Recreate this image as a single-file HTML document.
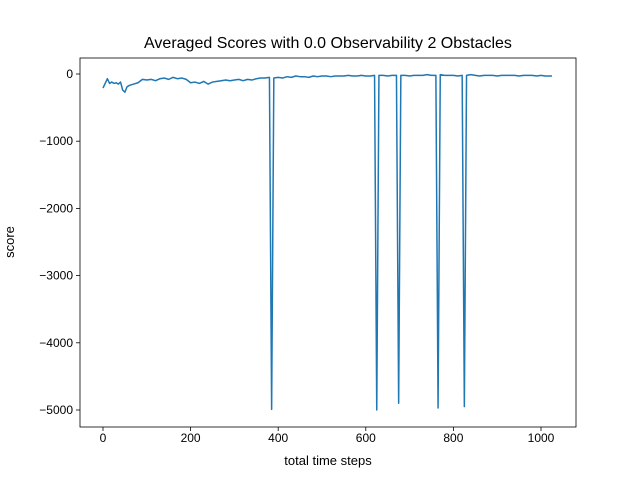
<!DOCTYPE html>
<html><head><meta charset="utf-8"><style>
body{margin:0;background:#fff}
svg{display:block;font-family:"Liberation Sans","DejaVu Sans",sans-serif}
</style></head><body>
<svg id="chart" width="640" height="480">
<rect x="0" y="0" width="640" height="480" fill="#fff"/>
<text x="328" y="48" font-size="16" text-anchor="middle">Averaged Scores with 0.0 Observability 2 Obstacles</text>
<g id="axes"></g>
<text x="328" y="465" font-size="13" text-anchor="middle">total time steps</text>
<text transform="translate(14,242) rotate(-90)" font-size="13" text-anchor="middle">score</text>
</svg>
<script>
const steps=[0,10,15,20,25,30,35,40,45,50,55,60,70,80,90,100,110,120,130,140,150,160,170,180,190,200,210,220,230,240,250,260,270,280,290,300,310,320,330,340,350,360,370,380,385,390,400,410,420,430,440,450,460,470,480,490,500,510,520,530,540,550,560,570,580,590,600,610,620,625,630,640,650,660,670,675,680,690,700,710,720,730,740,750,760,765,770,780,790,800,810,820,825,830,840,850,860,870,880,890,900,910,920,930,940,950,960,970,980,990,1000,1010,1020,1025];
const scores=[-210,-70,-140,-120,-140,-130,-150,-120,-240,-270,-190,-170,-150,-130,-80,-90,-80,-100,-70,-60,-80,-50,-70,-60,-80,-130,-120,-140,-110,-150,-120,-110,-100,-90,-100,-90,-80,-100,-80,-90,-70,-60,-60,-50,-4990,-60,-50,-60,-40,-50,-30,-40,-40,-50,-30,-40,-30,-30,-40,-30,-30,-30,-20,-30,-30,-20,-30,-30,-20,-5000,-20,-20,-30,-20,-20,-4900,-20,-20,-30,-20,-20,-20,-10,-20,-20,-4970,-10,-20,-20,-20,-30,-20,-4950,-20,-10,-20,-30,-20,-20,-20,-30,-20,-20,-20,-20,-30,-20,-20,-20,-30,-20,-30,-30,-30];
const xTicks=[0,200,400,600,800,1000];
const yTicks=[0,-1000,-2000,-3000,-4000,-5000];
const NS='http://www.w3.org/2000/svg';
const L=80,R=576,T=58,B=427;
const xs=v=>103+v*0.438;
const ys=v=>74-v*0.0672;
const g=document.getElementById('axes');
function mk(t,a){const e=document.createElementNS(NS,t);for(const k in a)e.setAttribute(k,a[k]);g.appendChild(e);return e;}
xTicks.forEach(v=>{
  const t=mk('line',{x1:xs(v),x2:xs(v),y1:B,y2:B+4,stroke:'#000','stroke-width':0.8});
  
  
  const l=mk('text',{x:xs(v),y:B+15,'font-size':12,'text-anchor':'middle'});
  l.textContent=v;
  
  
});
yTicks.forEach(v=>{
  const t=mk('line',{x1:L-4,x2:L,y1:ys(v),y2:ys(v),stroke:'#000','stroke-width':0.8});
  
  
  const l=mk('text',{x:L-7,y:ys(v)+4,'font-size':12,'text-anchor':'end'});
  l.textContent=v<0?'\u2212'+(-v):v;
  
  
});
const p=mk('polyline',{points:steps.map((s,i)=>xs(s)+','+ys(scores[i])).join(' '),fill:'none',stroke:'#1f77b4','stroke-width':1.5,'stroke-linejoin':'round'});


const f=mk('rect',{x:L,y:T,width:R-L,height:B-T,fill:'none',stroke:'#000','stroke-width':0.8});


</script>
</body></html>
